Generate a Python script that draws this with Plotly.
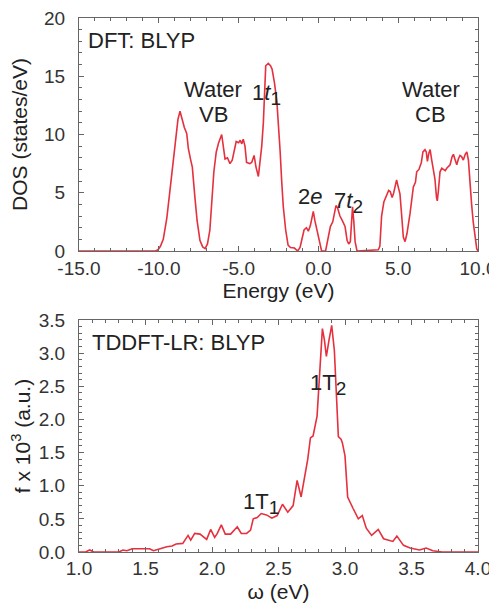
import plotly.graph_objects as go

# ---- DFT density of states (top panel) ----
dft_energy = [-15.0, -10.2, -10.05, -9.9, -9.72, -9.5, -9.3, -9.1, -8.95, -8.8, -8.67, -8.55, -8.4, -8.25,
              -8.15, -8.0, -7.9, -7.75, -7.6, -7.42, -7.25, -7.1, -6.95, -6.8, -6.68, -6.55, -6.4, -6.25,
              -6.06, -5.95, -5.85, -5.7, -5.54, -5.4, -5.3, -5.15, -5.0, -4.9, -4.8, -4.71, -4.6, -4.5,
              -4.3, -4.18, -4.03, -3.91, -3.76, -3.65, -3.55, -3.45, -3.38, -3.3, -3.14, -3.0, -2.9,
              -2.75, -2.6, -2.5, -2.4, -2.3, -2.2, -2.05, -1.9, -1.75, -1.5, -1.3, -1.15, -1.05, -0.9,
              -0.75, -0.63, -0.5, -0.4, -0.32, -0.22, -0.12, 0.0, 0.1, 0.2, 0.45, 0.6, 0.75, 0.9, 1.0,
              1.1, 1.2, 1.35, 1.5, 1.67, 1.8, 1.9, 2.0, 2.07, 2.14, 2.22, 2.3, 2.42, 3.75, 3.85, 3.96,
              4.1, 4.28, 4.4, 4.5, 4.62, 4.72, 4.82, 4.9, 5.0, 5.11, 5.22, 5.32, 5.43, 5.55, 5.74, 5.85,
              5.95, 6.08, 6.16, 6.3, 6.45, 6.55, 6.68, 6.76, 6.83, 6.92, 7.0, 7.1, 7.2, 7.3, 7.4, 7.45,
              7.52, 7.62, 7.73, 7.83, 7.95, 8.04, 8.15, 8.25, 8.38, 8.46, 8.55, 8.67, 8.77, 8.87, 8.97,
              9.08, 9.2, 9.3, 9.4, 9.5, 9.6, 9.7, 9.82, 9.92, 10.0]
dft_dos = [0.0, 0.0, 0.1, 0.4, 1.0, 2.8, 5.2, 7.5, 9.5, 11.3, 12.0, 11.4, 10.6, 10.1,
           8.8, 7.8, 7.2, 4.8, 2.6, 0.9, 0.35, 0.2, 0.6, 1.8, 4.0, 6.8, 8.5, 9.3,
           10.0, 9.0, 7.9, 8.0, 7.5, 7.8, 8.4, 9.4, 9.3, 9.5, 9.2, 9.6, 9.0, 7.6,
           7.5, 7.6, 8.2, 7.2, 6.4, 7.6, 9.0, 11.0, 14.0, 15.9, 16.1, 15.9, 15.6,
           14.4, 12.8, 11.0, 8.6, 6.0, 3.8, 1.8, 0.5, 0.3, 0.25, 0.0, 0.3, 0.9, 1.8,
           2.0, 1.7, 2.2, 3.0, 3.4, 2.6, 2.0, 1.1, 0.5, 0.0, 0.0, 1.0, 2.1, 2.5, 3.3,
           3.9, 3.7, 3.0, 2.6, 2.1, 0.9, 0.6, 0.8, 2.5, 3.8, 2.5, 0.8, 0.0, 0.1, 0.4, 3.0,
           4.2, 4.8, 5.2, 5.1, 4.6, 5.0, 5.8, 6.1, 5.5, 4.9, 3.0, 1.2, 0.8, 1.5, 3.2, 4.6,
           5.5, 5.9, 6.8, 7.0, 7.6, 8.5, 8.7, 8.5, 7.7, 8.4, 8.7, 7.8, 7.1, 6.2, 4.6, 4.3,
           5.2, 6.8, 7.1, 7.0, 6.9, 7.1, 7.3, 7.4, 8.1, 8.3, 7.9, 7.4, 7.9, 8.2, 8.1,
           7.8, 8.3, 8.5, 7.8, 5.5, 4.0, 2.5, 1.0, 0.2, 0.0]

# ---- TDDFT-LR oscillator strength (bottom panel) ----
td_omega = [1.0, 1.05, 1.08, 1.11, 1.3, 1.33, 1.36, 1.4, 1.53, 1.56, 1.61, 1.66, 1.7, 1.73, 1.78,
            1.82, 1.84, 1.87, 1.91, 1.96, 1.99, 2.02, 2.04, 2.07, 2.1, 2.14, 2.19, 2.22, 2.26,
            2.29, 2.31, 2.34, 2.37, 2.41, 2.45, 2.49, 2.53, 2.57, 2.61, 2.64, 2.67, 2.7, 2.72,
            2.74, 2.76, 2.79, 2.81, 2.83, 2.845, 2.86, 2.88, 2.9, 2.92, 2.94, 2.95, 2.97, 2.98,
            3.0, 3.02, 3.06, 3.1, 3.13, 3.16, 3.2, 3.25, 3.29, 3.36, 3.39, 3.44, 3.49, 3.56,
            3.61, 3.66, 3.73, 4.0]
td_f = [0.0, 0.0, 0.03, 0.0, 0.0, 0.03, 0.02, 0.05, 0.05, 0.02, 0.05, 0.08, 0.09, 0.12, 0.13,
        0.25, 0.18, 0.28, 0.27, 0.19, 0.34, 0.22, 0.28, 0.41, 0.27, 0.27, 0.38, 0.28, 0.28,
        0.33, 0.5, 0.52, 0.58, 0.56, 0.51, 0.55, 0.72, 0.6, 0.7, 1.08, 0.83, 1.15, 1.4,
        1.72, 1.75, 2.05, 2.8, 3.37, 3.2, 2.95, 3.2, 3.42, 3.04, 2.2, 1.74, 1.7, 1.65,
        1.45, 0.83, 0.66, 0.5, 0.55, 0.36, 0.25, 0.34, 0.2, 0.16, 0.24, 0.1, 0.06, 0.03,
        0.06, 0.02, 0.0, 0.0]

top_x_ticks = [-15.0, -10.0, -5.0, 0.0, 5.0, 10.0]
top_x_labels = ["-15.0", "-10.0", "-5.0", "0.0", "5.0", "10.0"]
top_y_ticks = [0, 5, 10, 15, 20]
bot_x_ticks = [1.0, 1.5, 2.0, 2.5, 3.0, 3.5, 4.0]
bot_y_ticks = [0.0, 0.5, 1.0, 1.5, 2.0, 2.5, 3.0, 3.5]

RED = "#e5303e"
FONT = "Liberation Sans, Arial, sans-serif"
TXT = "#222222"
AX = "#666666"

fig = go.Figure()
fig.add_trace(go.Scatter(x=dft_energy, y=dft_dos, mode="lines",
                         line=dict(color=RED, width=1.6), xaxis="x", yaxis="y",
                         showlegend=False, hoverinfo="skip"))
fig.add_trace(go.Scatter(x=td_omega, y=td_f, mode="lines",
                         line=dict(color=RED, width=1.6), xaxis="x2", yaxis="y2",
                         showlegend=False, hoverinfo="skip"))


def axis_style(**kw):
    d = dict(showline=True, linecolor=AX, linewidth=1, mirror="ticks",
             ticks="inside", ticklen=5, tickwidth=1, tickcolor=AX,
             showgrid=False, zeroline=False, automargin=False,
             ticklabeloverflow="allow",
             tickfont=dict(family=FONT, size=19, color="#333333"),
             title_font=dict(family=FONT, size=21, color=TXT))
    d.update(kw)
    return d


minor = lambda dt: dict(dtick=dt, ticks="inside", ticklen=3, tickcolor=AX, tickwidth=1, showgrid=False)

# page body has an 8px margin: figure is sized/offset to compensate
fig.update_layout(
    width=489, height=595,
    margin=dict(l=71, r=19, t=10, b=51),
    paper_bgcolor="white", plot_bgcolor="white",
    xaxis=axis_style(domain=[0, 1], anchor="y", range=[-15, 10], tickvals=top_x_ticks,
                     ticktext=top_x_labels, minor=minor(1), ticklabelstandoff=0,
                     title=dict(text="Energy (eV)", standoff=0)),
    yaxis=axis_style(domain=[0.5637, 1.0], anchor="x", range=[0, 20], tickvals=top_y_ticks,
                     minor=minor(1), ticklabelstandoff=9,
                     title=dict(text="DOS (states/eV)", standoff=10)),
    xaxis2=axis_style(domain=[0, 1], anchor="y2", range=[1, 4], tickvals=bot_x_ticks,
                      tickformat=".1f", minor=minor(0.1), ticklabelstandoff=-1,
                      title=dict(text="ω (eV)", standoff=9)),
    yaxis2=axis_style(domain=[0, 0.4345], anchor="x2", range=[0, 3.5], tickvals=bot_y_ticks,
                      tickformat=".1f", minor=minor(0.1), ticklabelstandoff=9,
                      title=dict(text="f x 10<sup>3</sup> (a.u.)", standoff=10)),
)

afont = dict(family=FONT, size=22, color=TXT)
SUB = "<sub><span style='font-size:19px'>%s</span></sub>"


def ann(text, xr, yr, x, y, xanchor="left"):
    fig.add_annotation(text=text, xref=xr, yref=yr, x=x, y=y, xanchor=xanchor,
                       yanchor="middle", showarrow=False, font=afont)


ann("DFT: BLYP", "x domain", "y domain", 0.0175, 0.9026)
ann("Water", "x domain", "y domain", 0.336, 0.691, "center")
ann("VB", "x domain", "y domain", 0.336, 0.584, "center")
ann("1<i>t</i>" + SUB % "1", "x domain", "y domain", 0.429, 0.67)
ann("Water", "x domain", "y domain", 0.882, 0.691, "center")
ann("CB", "x domain", "y domain", 0.882, 0.584, "center")
ann("2<i>e</i>", "x domain", "y domain", 0.545, 0.232)
ann("7<i>t</i>" + SUB % "2", "x domain", "y domain", 0.633, 0.21)

ann("TDDFT-LR: BLYP", "x2 domain", "y2 domain", 0.0276, 0.905)
ann("1T" + SUB % "2", "x2 domain", "y2 domain", 0.575, 0.72)
ann("1T" + SUB % "1", "x2 domain", "y2 domain", 0.407, 0.207)

fig.write_html("out.html")
